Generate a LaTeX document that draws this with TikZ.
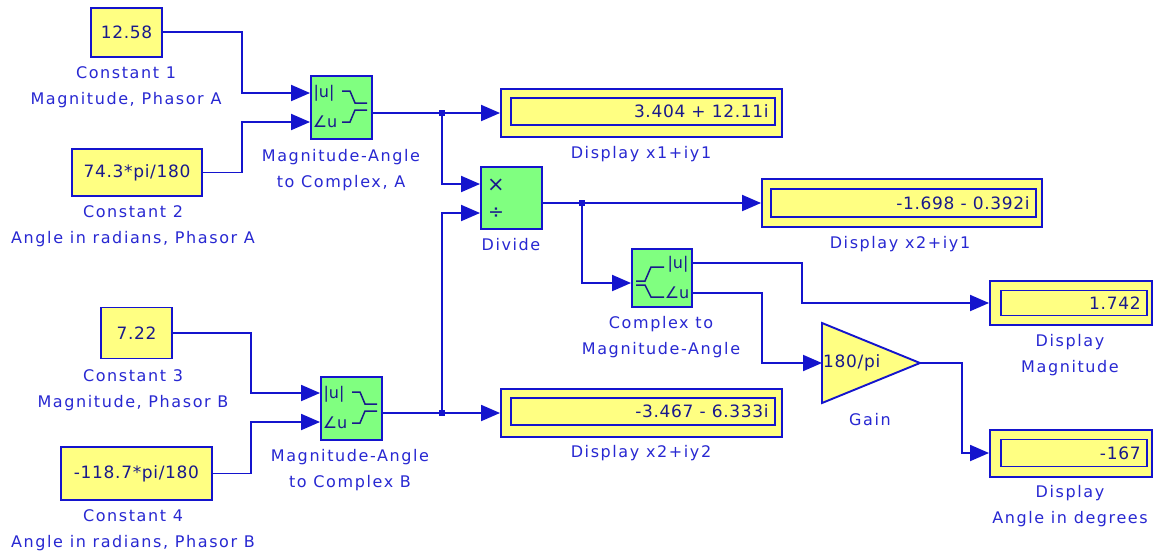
\documentclass[tikz,border=0pt]{standalone}
\usepackage{fontspec}
\setmainfont[LetterSpace=10]{DejaVu Sans}
\newfontfamily\valfont[LetterSpace=4]{DejaVu Sans}
\newfontfamily\iconfont{DejaVu Sans}
\usetikzlibrary{arrows.meta}
\definecolor{sblue}{RGB}{20,20,205}
\definecolor{tblue}{RGB}{40,40,210}
\definecolor{dblue}{RGB}{25,25,140}
\definecolor{syellow}{RGB}{255,255,130}
\definecolor{sgreen}{RGB}{128,255,128}
\tikzset{
  blk/.style={draw=sblue, line width=1.9pt, inner sep=0pt, rectangle, anchor=center},
  constblk/.style={blk, fill=syellow, text=dblue, font=\valfont\fontsize{17}{19}\selectfont},
  magblk/.style={blk, fill=sgreen},
  dispblk/.style={blk, fill=syellow},
  dispin/.style={draw=sblue, line width=1.6pt, inner sep=0pt, rectangle, anchor=center},
  dval/.style={anchor=east, xshift=-7pt, inner sep=0pt, text=dblue, font=\valfont\fontsize{17}{19}\selectfont},
  lbl/.style={text=tblue, font=\fontsize{16}{26}\selectfont, align=center, inner sep=0pt},
  icontxt/.style={text=dblue, inner sep=0pt, font=\iconfont\fontsize{16}{18}\selectfont},
  iconline/.style={draw=dblue, line width=1.5pt},
  wire/.style={draw=sblue, line width=1.9pt},
  sig/.style={wire, -{Triangle[length=19pt,width=16pt]}},
  jdot/.style={fill=sblue, rectangle, minimum size=6pt, inner sep=0pt}
}
\begin{document}
\begin{tikzpicture}[x=1pt,y=-1pt]
\useasboundingbox (0,0) rectangle (1157,558);
\fill[white] (0,0) rectangle (1157,558);

% constants
\node[constblk, minimum width=71pt, minimum height=49pt] (c1) at (126.5,32.5) {12.58};
\node[constblk, minimum width=130pt, minimum height=47pt] (c2) at (137,172.5) {74.3*pi/180};
\node[constblk, minimum width=71pt, minimum height=51pt] (c3) at (136.5,333) {7.22};
\node[constblk, minimum width=151pt, minimum height=53pt] (c4) at (136.5,473.5) {-118.7*pi/180};

\node[lbl] (lc1) at (126,87.5) {Constant 1\\Magnitude, Phasor A};
\node[lbl] (lc2) at (133,226) {Constant 2\\Angle in radians, Phasor A};
\node[lbl] (lc3) at (133,390) {Constant 3\\Magnitude, Phasor B};
\node[lbl] (lc4) at (133,530) {Constant 4\\Angle in radians, Phasor B};

% magnitude-angle to complex blocks
\node[magblk, minimum width=61pt, minimum height=63pt] (mA) at (341.5,107.5) {};
\node[magblk, minimum width=61pt, minimum height=63pt] (mB) at (351.5,408.5) {};
\foreach \b/\x/\y in {mA/311/76, mB/321/377} {
  \node[icontxt] (\b-t1) at (\x+13,\y+17) {|u|};
  \node[icontxt] (\b-t2) at (\x+14,\y+46) {∠u};
  \draw[iconline] (\x+31,\y+15) -- (\x+39,\y+15) -- (\x+44,\y+27) -- (\x+56,\y+27);
  \draw[iconline] (\x+31,\y+46) -- (\x+39,\y+46) -- (\x+44,\y+34) -- (\x+56,\y+34);
}
\node[lbl] (lmA) at (341,170) {Magnitude-Angle\\to Complex, A};
\node[lbl] (lmB) at (350,470) {Magnitude-Angle\\to Complex B};

% divide
\node[magblk, minimum width=61pt, minimum height=62pt] (dv) at (511.5,198) {};
\node[icontxt, font=\iconfont\fontsize{21}{21}\selectfont] (dvx) at (496,185) {×};
\node[icontxt, font=\iconfont\fontsize{19}{19}\selectfont] (dvd) at (496,213) {÷};
\node[lbl] (ldv) at (511,245) {Divide};

% complex to magnitude-angle
\node[magblk, minimum width=60pt, minimum height=58pt] (cm) at (662,278) {};
\node[icontxt] (cm-t1) at (678,264) {|u|};
\node[icontxt] (cm-t2) at (677,293) {∠u};
\draw[iconline] (636,281) -- (645,281) -- (651,267) -- (664,267);
\draw[iconline] (636,285) -- (645,285) -- (651,297) -- (664,297);
\node[lbl] (lcm) at (661,337) {Complex to\\Magnitude-Angle};

% gain
\draw[draw=sblue, fill=syellow, line width=1.9pt, line join=miter] (822,323) -- (920,363) -- (822,403) -- cycle;
\coordinate (gin) at (822,363);
\coordinate (gout) at (920,363);
\node[icontxt, anchor=west, font=\valfont\fontsize{17}{19}\selectfont] (gtxt) at (823,363) {180/pi};
\node[lbl] (lg) at (870,420) {Gain};

% displays
\node[dispblk, minimum width=281pt, minimum height=48pt] (d1) at (641.5,113) {};
\node[dispin, minimum width=264pt, minimum height=27pt] (d1i) at (643,111.5) {};
\node[dval] (d1v) at (d1i.east) {3.404 + 12.11i};
\node[lbl] (ld1) at (641,154) {Display x1+iy1};

\node[dispblk, minimum width=280pt, minimum height=48pt] (d2) at (902,203) {};
\node[dispin, minimum width=265pt, minimum height=28pt] (d2i) at (903.5,203) {};
\node[dval] (d2v) at (d2i.east) {-1.698 - 0.392i};
\node[lbl] (ld2) at (900,244) {Display x2+iy1};

\node[dispblk, minimum width=281pt, minimum height=48pt] (d3) at (641.5,413) {};
\node[dispin, minimum width=264pt, minimum height=27pt] (d3i) at (643,411.5) {};
\node[dval] (d3v) at (d3i.east) {-3.467 - 6.333i};
\node[lbl] (ld3) at (641,453) {Display x2+iy2};

\node[dispblk, minimum width=162pt, minimum height=44pt] (dm) at (1071,303) {};
\node[dispin, minimum width=146pt, minimum height=25pt] (dmi) at (1074,303) {};
\node[dval] (dmv) at (dmi.east) {1.742};
\node[lbl] (ldm) at (1070,355.5) {Display\\Magnitude};

\node[dispblk, minimum width=162pt, minimum height=47pt] (da) at (1071,453.5) {};
\node[dispin, minimum width=146pt, minimum height=27pt] (dai) at (1074,453) {};
\node[dval] (dav) at (dai.east) {-167};
\node[lbl] (lda) at (1070,506.5) {Display\\Angle in degrees};

% junctions
\node[jdot] (j1) at (442,113) {};
\node[jdot] (j2) at (442,413) {};
\node[jdot] (j3) at (582,203) {};

% connectors
\draw[sig] (c1.east |- 0,32) -- (242,32) -- (242,93) -- (mA.west |- 0,93);
\draw[sig] (c2.east) -- (242,172.5) -- (242,122) -- (mA.west |- 0,122);
\draw[sig] (c3.east |- 0,333) -- (251,333) -- (251,393) -- (mB.west |- 0,393);
\draw[sig] (c4.east) -- (251,473.5) -- (251,422) -- (mB.west |- 0,422);
\draw[wire] (mA.east |- j1) -- (j1.center);
\draw[sig] (j1.center) -- (d1.west |- j1);
\draw[sig] (j1.center) -- (442,184) -- (dv.west |- 0,184);
\draw[wire] (mB.east |- j2) -- (j2.center);
\draw[sig] (j2.center) -- (d3.west |- j2);
\draw[sig] (j2.center) -- (442,213) -- (dv.west |- 0,213);
\draw[wire] (dv.east |- j3) -- (j3.center);
\draw[sig] (j3.center) -- (d2.west |- j3);
\draw[sig] (j3.center) -- (582,283) -- (cm.west |- 0,283);
\draw[sig] (cm.east |- 0,263) -- (802,263) -- (802,303) -- (dm.west);
\draw[sig] (cm.east |- 0,293) -- (762,293) -- (762,363) -- (gin);
\draw[sig] (gout) -- (962,363) -- (962,453) -- (da.west |- 0,453);
\end{tikzpicture}
\end{document}
